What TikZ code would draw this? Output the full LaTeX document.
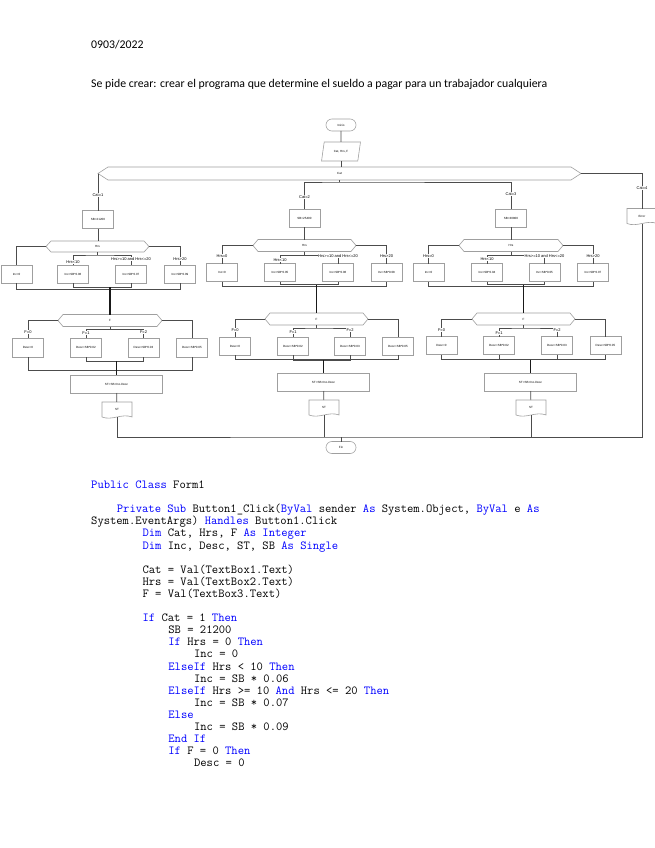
\documentclass[tikz,border=0pt]{standalone}
\usepackage{fontspec}
\setmainfont{Liberation Sans}
\newfontfamily\headfont{Carlito}
\usetikzlibrary{positioning, shapes.geometric}
\definecolor{kwblue}{RGB}{0,0,255}
\newcommand{\kw}[1]{\textcolor{kwblue}{#1}}

\begin{document}
\begin{tikzpicture}[
    x=1pt, y=-1pt,
    boxline/.style={draw=gray!75, line width=0.6pt},
    edge/.style={draw=black!70, line width=0.7pt},
    trunk/.style={draw=black!90, line width=1.2pt},
    proc/.style={rectangle, boxline, minimum width=31pt, minimum height=18pt, inner sep=0pt, outer sep=0pt, font=\fontsize{3}{3.5}\selectfont},
    wide/.style={proc, minimum width=92pt},
    term/.style={rectangle, boxline, rounded corners=5.9pt, minimum width=30pt, minimum height=12pt, inner sep=0pt, outer sep=0pt, font=\fontsize{3}{3.5}\selectfont},
    inp/.style={trapezium, trapezium left angle=65, trapezium right angle=115, trapezium stretches=true, boxline, minimum width=39pt, minimum height=19pt, inner sep=0pt, outer sep=0pt, font=\fontsize{3}{3.5}\selectfont},
    hexa/.style={rectangle, inner sep=0pt, outer sep=0pt, minimum height=12pt, font=\fontsize{3}{3.5}\selectfont,
        append after command={\pgfextra{\draw[boxline]
            (\tikzlastnode.west) -- ([xshift=#1]\tikzlastnode.north west)
            -- ([xshift=-#1]\tikzlastnode.north east) -- (\tikzlastnode.east)
            -- ([xshift=-#1]\tikzlastnode.south east)
            -- ([xshift=#1]\tikzlastnode.south west) -- cycle;}}},
    hexa/.default=5pt,
    docu/.style={rectangle, inner sep=0pt, outer sep=0pt, minimum width=30pt, minimum height=15pt, font=\fontsize{3}{3.5}\selectfont,
        append after command={\pgfextra{\draw[boxline]
            (\tikzlastnode.south west) -- (\tikzlastnode.north west)
            -- (\tikzlastnode.north east) -- (\tikzlastnode.south east)
            .. controls ([xshift=-10pt,yshift=4pt]\tikzlastnode.south east)
            and ([xshift=10pt,yshift=-4pt]\tikzlastnode.south west) .. (\tikzlastnode.south west);}}},
    lbl/.style={fill=white, inner sep=0.4pt, font=\fontsize{4}{4.5}\selectfont},
    head/.style={anchor=base west, inner sep=0pt, font=\headfont\fontsize{11.8}{14}\selectfont},
    code/.style={anchor=base west, inner sep=0pt, font=\ttfamily\fontsize{12.25}{14}\selectfont}
]
\useasboundingbox (0,0) rectangle (655,848);

    % --- Header
    \node[head] (fecha) at (91,49) {0903/2022};
    \node[head] (enun) at (91,88) {Se pide crear: crear el programa que determine el sueldo a pagar para un trabajador cualquiera};

    % --- Top: start, input, case on Cat
    \node[term] (ini) at (341,125) {Inicio};
    \node[inp] (lee) at (341,151.5) {Cat, Hrs, F};
    \node[hexa=10pt, minimum width=483pt, minimum height=13pt] (cat) at (339.5,173.5) {Cat};

    % --- Cat = 1 (left)
    \node[proc] (sb1) at (98,219.5) {SB=21200};
    \node[hexa, minimum width=103pt, minimum height=11pt] (hrs1) at (97.5,246.5) {Hrs};
    \node[proc] (inc1a) at (16.5,274) {Inc=0};
    \node[proc] (inc1b) at (73,274) {Inc=SB*0.06};
    \node[proc] (inc1c) at (131,274) {Inc=SB*0.07};
    \node[proc] (inc1d) at (180,274) {Inc=SB*0.09};
    \node[hexa, minimum width=104pt] (f1) at (110,320.5) {F};
    \node[proc, minimum height=19pt] (des1a) at (28,347.5) {Desc=0};
    \node[proc, minimum height=19pt] (des1b) at (86,347.5) {Desc=SB*0.02};
    \node[proc, minimum height=19pt] (des1c) at (143.5,347.5) {Desc=SB*0.03};
    \node[proc, minimum height=19pt] (des1d) at (192,347.5) {Desc=SB*0.05};
    \node[wide] (st1) at (116.5,384) {ST=SB+Inc-Desc};
    \node[docu] (out1) at (117,409.5) {ST};

    % --- Cat = 2 (middle)
    \node[proc] (sb2) at (304.5,218) {SB=25400};
    \node[hexa, minimum width=103pt] (hrs2) at (304.5,245.5) {Hrs};
    \node[proc] (inc2a) at (222,272.5) {Inc=0};
    \node[proc] (inc2b) at (280,272.5) {Inc=SB*0.05};
    \node[proc] (inc2c) at (338,272.5) {Inc=SB*0.06};
    \node[proc] (inc2d) at (386.5,272.5) {Inc=SB*0.08};
    \node[hexa, minimum width=103pt] (f2) at (316.5,319) {F};
    \node[proc] (des2a) at (235,346) {Desc=0};
    \node[proc] (des2b) at (293,346) {Desc=SB*0.02};
    \node[proc] (des2c) at (350,346) {Desc=SB*0.03};
    \node[proc] (des2d) at (398,346) {Desc=SB*0.05};
    \node[wide] (st2) at (323.5,382) {ST=SB+Inc-Desc};
    \node[docu] (out2) at (324,407.5) {ST};

    % --- Cat = 3 (right)
    \node[proc] (sb3) at (511,218) {SB=30800};
    \node[hexa, minimum width=104pt] (hrs3) at (511,245.5) {Hrs};
    \node[proc] (inc3a) at (428.5,272.5) {Inc=0};
    \node[proc] (inc3b) at (487,272.5) {Inc=SB*0.04};
    \node[proc] (inc3c) at (544.5,272.5) {Inc=SB*0.05};
    \node[proc] (inc3d) at (593,272.5) {Inc=SB*0.07};
    \node[hexa, minimum width=103pt] (f3) at (523.5,319) {F};
    \node[proc] (des3a) at (441.5,345.5) {Desc=0};
    \node[proc] (des3b) at (499,345.5) {Desc=SB*0.02};
    \node[proc] (des3c) at (557,345.5) {Desc=SB*0.03};
    \node[proc] (des3d) at (605.5,345.5) {Desc=SB*0.05};
    \node[wide] (st3) at (530.5,382) {ST=SB+Inc-Desc};
    \node[docu] (out3) at (531,407.5) {ST};

    % --- Cat = 4 and end
    \node[docu] (err) at (642,216) {Error};
    \node[term] (fin) at (341,447.5) {Fin};
    \coordinate (bot) at (341,437);

    % --- Top connectors
    \draw[edge] (ini) -- (lee);
    \draw[edge] (lee.south) -- (lee.south |- cat.north);
    \draw[edge] (cat.west) -| (sb1.north);
    \draw[edge] (cat.south) -- ++(0,2) coordinate (catm);
    \draw[edge] (sb2.north) |- (catm) -| (sb3.north);
    \draw[edge] (cat.east) -| (err.north);

    % --- Cat = 1 connectors
    \draw[edge] (sb1.south) -- (sb1.south |- hrs1.north);
    \draw[edge] (hrs1.west) -| (inc1a.north);
    \draw[edge] (hrs1.east) -| (inc1d.north);
    \draw[edge] (hrs1.south) -- ++(0,3) coordinate (h1m);
    \draw[edge] (inc1b.north) |- (h1m) -| (inc1c.north);
    \draw[edge] (inc1a.south) -- ++(0,6) -| (inc1d.south);
    \draw[edge] (inc1b.south) -- ++(0,4) coordinate (m1) -| (inc1c.south);
    \draw[trunk] (m1 -| f1.north) -- (f1.north);
    \draw[edge] (f1.west) -| (des1a.north);
    \draw[edge] (f1.east) -| (des1d.north);
    \draw[edge] (f1.south) -- ++(0,3) coordinate (f1m);
    \draw[edge] (des1b.north) |- (f1m) -| (des1c.north);
    \draw[edge] (des1a.south) -- ++(0,13) -| (des1d.south);
    \draw[edge] (des1b.south) -- ++(0,4) coordinate (n1) -| (des1c.south);
    \draw[trunk] (n1 -| st1.north) -- (st1.north);
    \draw[edge] (st1) -- (out1);

    % --- Cat = 2 connectors
    \draw[edge] (sb2) -- (hrs2);
    \draw[edge] (hrs2.west) -| (inc2a.north);
    \draw[edge] (hrs2.east) -| (inc2d.north);
    \draw[edge] (hrs2.south) -- ++(0,4) coordinate (h2m);
    \draw[edge] (inc2b.north) |- (h2m) -| (inc2c.north);
    \draw[edge] (inc2a.south) -- ++(0,4.5) -| (inc2d.south);
    \draw[edge] (inc2b.south) -- ++(0,3) coordinate (m2) -| (inc2c.south);
    \draw[trunk] (m2 -| f2.north) -- (f2.north);
    \draw[edge] (f2.west) -| (des2a.north);
    \draw[edge] (f2.east) -| (des2d.north);
    \draw[edge] (f2.south) -- ++(0,3) coordinate (f2m);
    \draw[edge] (des2b.north) |- (f2m) -| (des2c.north);
    \draw[edge] (des2a.south) -- ++(0,4.5) -| (des2d.south);
    \draw[edge] (des2b.south) -- ++(0,5) coordinate (n2) -| (des2c.south);
    \draw[trunk] (n2 -| st2.north) -- (st2.north);
    \draw[edge] (st2) -- (out2);

    % --- Cat = 3 connectors
    \draw[edge] (sb3) -- (hrs3);
    \draw[edge] (hrs3.west) -| (inc3a.north);
    \draw[edge] (hrs3.east) -| (inc3d.north);
    \draw[edge] (hrs3.south) -- ++(0,4) coordinate (h3m);
    \draw[edge] (inc3b.north) |- (h3m) -| (inc3c.north);
    \draw[edge] (inc3a.south) -- ++(0,4.5) -| (inc3d.south);
    \draw[edge] (inc3b.south) -- ++(0,3) coordinate (m3) -| (inc3c.south);
    \draw[trunk] (m3 -| f3.north) -- (f3.north);
    \draw[edge] (f3.west) -| (des3a.north);
    \draw[edge] (f3.east) -| (des3d.north);
    \draw[edge] (f3.south) -- ++(0,3) coordinate (f3m);
    \draw[edge] (des3b.north) |- (f3m) -| (des3c.north);
    \draw[edge] (des3a.south) -- ++(0,4.5) -| (des3d.south);
    \draw[edge] (des3b.south) -- ++(0,5) coordinate (n3) -| (des3c.south);
    \draw[trunk] (n3 -| st3.north) -- (st3.north);
    \draw[edge] (st3) -- (out3);

    % --- Bottom join to Fin
    \draw[edge] (out1.south) |- (bot) -| (err.south);
    \draw[edge] (out2.south) -- (out2.south |- bot);
    \draw[edge] (out3.south) -- (out3.south |- bot);
    \draw[edge] (bot) -- (fin);

    % --- Branch labels
    \node[lbl] (lc1) at (98,195) {Cat=1};
    \node[lbl] (lc2) at (304.5,197) {Cat=2};
    \node[lbl] (lc3) at (511,194) {Cat=3};
    \node[lbl] (lc4) at (642,188) {Cat=4};
    \node[lbl] (lh1b) at (73,262) {Hrs<10};
    \node[lbl] (lh1c) at (131,259) {Hrs>=10 and Hrs<=20};
    \node[lbl] (lh1d) at (180,259) {Hrs>20};
    \node[lbl] (lh2a) at (222,256) {Hrs=0};
    \node[lbl] (lh2b) at (280,260) {Hrs<10};
    \node[lbl] (lh2c) at (338,256) {Hrs>=10 and Hrs<=20};
    \node[lbl] (lh2d) at (386.5,256) {Hrs>20};
    \node[lbl] (lh3a) at (428.5,256) {Hrs=0};
    \node[lbl] (lh3b) at (487,259) {Hrs<10};
    \node[lbl] (lh3c) at (544.5,256) {Hrs>=10 and Hrs<=20};
    \node[lbl] (lh3d) at (593,256) {Hrs>20};
    \node[lbl] (lf1a) at (28,332) {F=0};
    \node[lbl] (lf1b) at (86,333) {F=1};
    \node[lbl] (lf1c) at (143.5,332) {F=2};
    \node[lbl] (lf2a) at (235,330) {F=0};
    \node[lbl] (lf2b) at (293,332) {F=1};
    \node[lbl] (lf2c) at (350,330) {F=2};
    \node[lbl] (lf3a) at (441.5,330) {F=0};
    \node[lbl] (lf3b) at (499,333) {F=1};
    \node[lbl] (lf3c) at (557,330) {F=2};

    % --- Code listing
    \node[code] (c01) at (91,488.5) {\kw{Public Class} Form1};
    \node[code] (c02) at (116.7,512.7) {\kw{Private Sub} Button1\_Click(\kw{ByVal} sender \kw{As} System.Object, \kw{ByVal} e \kw{As}};
    \node[code] (c03) at (91,524.8) {System.EventArgs) \kw{Handles} Button1.Click};
    \node[code] (c04) at (142.4,536.9) {\kw{Dim} Cat, Hrs, F \kw{As Integer}};
    \node[code] (c05) at (142.4,549) {\kw{Dim} Inc, Desc, ST, SB \kw{As Single}};
    \node[code] (c06) at (142.4,573.2) {Cat = Val(TextBox1.Text)};
    \node[code] (c07) at (142.4,585.3) {Hrs = Val(TextBox2.Text)};
    \node[code] (c08) at (142.4,597.4) {F = Val(TextBox3.Text)};
    \node[code] (c09) at (142.4,621.6) {\kw{If} Cat = 1 \kw{Then}};
    \node[code] (c10) at (168.2,633.7) {SB = 21200};
    \node[code] (c11) at (168.2,645.8) {\kw{If} Hrs = 0 \kw{Then}};
    \node[code] (c12) at (193.9,657.9) {Inc = 0};
    \node[code] (c13) at (168.2,670) {\kw{ElseIf} Hrs < 10 \kw{Then}};
    \node[code] (c14) at (193.9,682.1) {Inc = SB * 0.06};
    \node[code] (c15) at (168.2,694.2) {\kw{ElseIf} Hrs >= 10 \kw{And} Hrs <= 20 \kw{Then}};
    \node[code] (c16) at (193.9,706.3) {Inc = SB * 0.07};
    \node[code] (c17) at (168.2,718.4) {\kw{Else}};
    \node[code] (c18) at (193.9,730.5) {Inc = SB * 0.09};
    \node[code] (c19) at (168.2,742.6) {\kw{End If}};
    \node[code] (c20) at (168.2,754.7) {\kw{If} F = 0 \kw{Then}};
    \node[code] (c21) at (193.9,766.8) {Desc = 0};

\end{tikzpicture}
\end{document}
